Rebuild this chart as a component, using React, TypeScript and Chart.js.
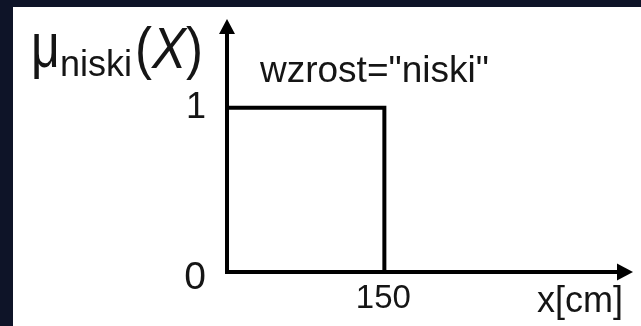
import React, { useEffect, useRef } from 'react';
import { Chart, registerables } from 'chart.js';

Chart.register(...registerables);

// ---- data ----
const curveX = [0, 150, 150];
const curveY = [1, 1, 0];
const xTickValues = [150];
const xTickLabels = ['150'];
const yTickValues = [0, 1];
const yTickLabels = ['0', '1'];
const xAxisTitle = 'x[cm]';
const yAxisSymbol = 'μ';
const yAxisSub = 'niski';
const yAxisArgOpen = '(';
const yAxisArgVar = 'X';
const yAxisArgClose = ')';
const setLabel = 'wzrost="niski"';
const xMin = 0;
const xMax = 387;
const yMin = 0;
const yMax = 1.54;

// ---- styles ----
const FONT = '"Liberation Sans", Arial, sans-serif';
const INK = '#151515';
const yTickFontSizes = [39, 36];

function txt(
  ctx: CanvasRenderingContext2D,
  s: string,
  x: number,
  y: number,
  font: string,
  align: CanvasTextAlign = 'left',
  baseline: CanvasTextBaseline = 'alphabetic',
  sx = 1,
  sy = 1
) {
  ctx.save();
  ctx.font = font;
  ctx.textAlign = align;
  ctx.textBaseline = baseline;
  ctx.fillStyle = INK;
  ctx.translate(x, y);
  ctx.scale(sx, sy);
  ctx.fillText(s, 0, 0);
  ctx.restore();
}

const bgPlugin = {
  id: 'bg',
  beforeDraw(chart: any) {
    const ctx: CanvasRenderingContext2D = chart.ctx;
    const w = chart.width;
    const h = chart.height;
    ctx.save();
    ctx.fillStyle = '#0e1428';
    ctx.fillRect(0, 0, w, h);
    ctx.fillStyle = '#ffffff';
    ctx.fillRect(13, 7, w - 13, h - 7);
    ctx.restore();
  },
};

const axesPlugin = {
  id: 'arrowAxes',
  beforeDatasetsDraw(chart: any) {
    const ctx: CanvasRenderingContext2D = chart.ctx;
    const { top, right } = chart.chartArea;
    const xs = chart.scales.x;
    const ys = chart.scales.y;
    const ox = xs.getPixelForValue(xMin);
    const oy = ys.getPixelForValue(yMin);
    ctx.save();
    ctx.strokeStyle = '#000';
    ctx.fillStyle = '#000';
    ctx.lineWidth = 4;
    ctx.lineCap = 'butt';
    ctx.beginPath();
    ctx.moveTo(ox, oy + 2);
    ctx.lineTo(ox, top + 12);
    ctx.stroke();
    ctx.beginPath();
    ctx.moveTo(ox - 2, oy);
    ctx.lineTo(right - 12, oy);
    ctx.stroke();
    // arrow heads
    ctx.beginPath();
    ctx.moveTo(ox, top);
    ctx.lineTo(ox - 8, top + 15);
    ctx.lineTo(ox + 8, top + 15);
    ctx.closePath();
    ctx.fill();
    ctx.beginPath();
    ctx.moveTo(right, oy);
    ctx.lineTo(right - 16, oy - 8.5);
    ctx.lineTo(right - 16, oy + 8.5);
    ctx.closePath();
    ctx.fill();
    ctx.restore();
  },
  afterDatasetsDraw(chart: any) {
    const ctx: CanvasRenderingContext2D = chart.ctx;
    const { right } = chart.chartArea;
    const xs = chart.scales.x;
    const ys = chart.scales.y;
    const ox = xs.getPixelForValue(xMin);
    const oy = ys.getPixelForValue(yMin);

    // y tick labels
    yTickValues.forEach((v, i) => {
      const py = ys.getPixelForValue(v);
      const size = yTickFontSizes[i];
      txt(ctx, yTickLabels[i], ox - 21, py + (v === yMin ? 6 : 0), `${size}px ${FONT}`, 'right', 'middle');
    });

    // x tick labels
    xTickValues.forEach((v, i) => {
      const px = xs.getPixelForValue(v);
      txt(ctx, xTickLabels[i], px - 1, oy + 36, `33px ${FONT}`, 'center', 'alphabetic');
    });

    // x axis title
    txt(ctx, xAxisTitle, right - 10, oy + 40, `36px ${FONT}`, 'right', 'alphabetic');

    // set label
    const y1 = ys.getPixelForValue(1);
    txt(ctx, setLabel, ox + 33, y1 - 26, `37px ${FONT}`, 'left', 'alphabetic');

    // y axis title: μ_niski(X)
    const base = y1 - 41;
    txt(ctx, yAxisSymbol, ox - 196, base, `50px ${FONT}`, 'left', 'alphabetic', 1, 1.25);
    txt(ctx, yAxisSub, ox - 167, base + 9, `36px ${FONT}`, 'left', 'alphabetic');
    ctx.save();
    ctx.font = `58px ${FONT}`;
    const wOpen = ctx.measureText(yAxisArgOpen).width * 0.88;
    ctx.font = `italic 58px ${FONT}`;
    const wVar = ctx.measureText(yAxisArgVar).width * 0.88;
    ctx.restore();
    const ax = ox - 92;
    txt(ctx, yAxisArgOpen, ax, base + 1, `58px ${FONT}`, 'left', 'alphabetic', 0.88, 1);
    txt(ctx, yAxisArgVar, ax + wOpen, base + 1, `italic 58px ${FONT}`, 'left', 'alphabetic', 0.88, 1);
    txt(ctx, yAxisArgClose, ax + wOpen + wVar, base + 1, `58px ${FONT}`, 'left', 'alphabetic', 0.88, 1);
  },
};

export default function App() {
  const ref = useRef<HTMLCanvasElement | null>(null);

  useEffect(() => {
    document.body.style.margin = '0';
    const canvas = ref.current;
    if (!canvas) return;
    const chart = new Chart(canvas, {
      type: 'line',
      data: {
        datasets: [
          {
            data: curveX.map((x, i) => ({ x, y: curveY[i] })),
            borderColor: '#000',
            borderWidth: 4,
            pointRadius: 0,
            tension: 0,
            fill: false,
            clip: false as any,
            borderJoinStyle: 'miter',
            borderCapStyle: 'butt',
          },
        ],
      },
      options: {
        responsive: false,
        animation: false,
        devicePixelRatio: 1,
        events: [],
        layout: { padding: { left: 227, right: 8, top: 19, bottom: 54 } },
        plugins: { legend: { display: false }, tooltip: { enabled: false } },
        scales: {
          x: { type: 'linear', min: xMin, max: xMax, display: false },
          y: { type: 'linear', min: yMin, max: yMax, display: false },
        },
      },
      plugins: [bgPlugin, axesPlugin],
    });
    return () => chart.destroy();
  }, []);

  return (
    <div style={{ width: 641, height: 326 }}>
      <canvas ref={ref} width={641} height={326} style={{ display: 'block' }} />
    </div>
  );
}
